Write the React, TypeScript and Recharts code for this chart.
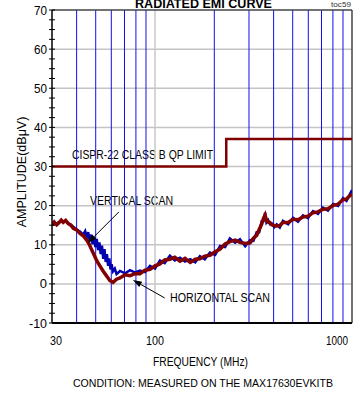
import { LineChart, Line, XAxis, YAxis, ReferenceLine, Customized } from "recharts";

const FONT = "'Liberation Sans', Arial, sans-serif";
const PLOT_LEFT = 52;

// axis ticks
const FREQ_TICKS = [30, 100, 1000];
const AMP_TICKS = [-10, -7.5, -5, -2.5, 0, 2.5, 5, 7.5, 10, 12.5, 15, 17.5, 20, 22.5, 25, 27.5, 30, 32.5, 35, 37.5, 40, 42.5, 45, 47.5, 50, 52.5, 55, 57.5, 60, 62.5, 65, 67.5, 70];
const GRID_AMP = [0, 10, 20, 30, 40, 50, 60];
const BLUE_FREQ_LINES = [40, 50, 60, 70, 80, 90, 200, 300, 400, 500, 600, 700, 800, 900];

// CISPR-22 class B QP limit
const LIMIT_FREQ = [30, 230, 230, 1000];
const LIMIT_AMP = [30, 30, 37, 37];

// horizontal scan (dark red)
const HOR_FREQ = [30, 30.8, 31.7, 32.5, 33.4, 34.2, 35.2, 36.3, 37.4, 38.5, 40, 41.6, 43.2, 45, 46.3, 47.7, 49.1, 50.6, 52.5, 54.5, 56.8, 59.1, 61.2, 63.8, 66.4, 70.5, 74.7, 79.2, 83.9, 89, 94.3, 100, 106, 112, 119, 126, 134, 142, 151, 160, 169, 179, 190, 202, 214, 227, 240, 255, 270, 287, 304, 316, 328, 338, 348, 355, 362, 368, 375, 383, 391, 403, 415, 430, 446, 474, 502, 532, 564, 598, 634, 672, 712, 755, 801, 850, 900, 938, 977, 1000];
const HOR_AMP = [15.0, 15.8, 15.1, 15.6, 16.3, 15.7, 16.2, 15.4, 15.0, 14.2, 13.8, 12.9, 12.3, 11.2, 10.2, 8.7, 7.4, 5.9, 4.6, 3.3, 2.0, 0.8, 0.4, 1.2, 1.5, 2.3, 2.1, 2.6, 2.6, 3.5, 3.7, 4.6, 5.1, 6.1, 6.3, 6.8, 5.8, 6.5, 5.5, 6.3, 6.4, 7.1, 7.3, 8.2, 8.9, 10.2, 10.8, 11.2, 10.6, 10.3, 10.5, 11.7, 12.4, 13.9, 15.3, 16.7, 17.6, 16.2, 15.8, 15.7, 15.1, 14.9, 14.8, 14.9, 15.7, 15.7, 16.5, 16.4, 17.1, 17.3, 18.2, 18.4, 19.1, 19.2, 20.0, 20.4, 21.5, 21.7, 22.6, 22.8];

// vertical scan (blue)
const VERT_FREQ = [30, 31.7, 33.4, 35.2, 37.4, 40, 41.6, 43.2, 44.2, 45, 45.8, 46.6, 47.4, 48.2, 49, 49.8, 50.6, 51.4, 52.2, 53, 53.8, 54.6, 55.4, 56.2, 57, 57.8, 58.6, 59.4, 60.2, 61.2, 62.5, 63.8, 66.4, 70.5, 74.7, 79.2, 83.9, 89, 94.3, 100, 106, 112, 119, 126, 134, 142, 151, 160, 169, 179, 190, 202, 214, 227, 240, 255, 270, 287, 304, 316, 328, 338, 348, 355, 362, 368, 375, 383, 391, 403, 415, 430, 446, 474, 502, 532, 564, 598, 634, 672, 712, 755, 801, 850, 900, 938, 977, 1000];
const VERT_AMP = [15.4, 15.4, 16.1, 15.9, 15.1, 13.9, 13.4, 12.6, 13.5, 11.9, 13.2, 11.0, 12.6, 10.1, 12.0, 9.4, 11.5, 8.6, 10.6, 7.6, 9.8, 6.4, 8.9, 5.6, 7.6, 4.6, 6.5, 3.7, 5.0, 3.2, 3.9, 2.5, 3.3, 2.7, 3.5, 2.9, 3.4, 3.0, 4.6, 3.9, 6.0, 5.3, 7.2, 6.0, 6.7, 5.7, 6.3, 5.5, 7.1, 6.3, 8.0, 7.4, 9.7, 9.4, 11.6, 10.5, 11.4, 9.6, 11.2, 11.0, 13.2, 13.2, 16.0, 16.0, 18.2, 15.7, 16.3, 15.3, 15.5, 14.5, 15.2, 14.4, 16.1, 15.2, 16.9, 15.9, 17.5, 16.8, 18.6, 17.9, 19.5, 18.7, 20.4, 19.9, 21.9, 21.2, 23.0, 24.0];

const rows = (freq: number[], amp: number[]) => freq.map((f, i) => ({ freq: f, amp: amp[i] }));
const limitData = rows(LIMIT_FREQ, LIMIT_AMP);
const horData = rows(HOR_FREQ, HOR_AMP);
const vertData = rows(VERT_FREQ, VERT_AMP);

function YTick(props: any) {
  const { y, payload } = props;
  const v = payload.value;
  const major = v % 10 === 0;
  const label = String(v);
  const width = label.length === 1 ? undefined : label.length === 2 ? 13 : 18;
  return (
    <g>
      <line x1={PLOT_LEFT - 3} x2={PLOT_LEFT + 3} y1={y} y2={y} stroke="#000" strokeWidth={1} />
      {major && (
        <text
          x={PLOT_LEFT - 5}
          y={y}
          dy={4.5}
          textAnchor="end"
          fontFamily={FONT}
          fontSize={13}
          fill="#000"
          textLength={width}
          lengthAdjust={width ? "spacingAndGlyphs" : undefined}
        >
          {label}
        </text>
      )}
    </g>
  );
}

function XTick(props: any) {
  const { x, y, payload } = props;
  const v = payload.value;
  const w = v === 30 ? 12 : v === 100 ? 18 : 22;
  const left = v === 30 ? x - 2 : v === 1000 ? x - 19 : x - 9;
  return (
    <text x={left} y={y} dy={14} fontFamily={FONT} fontSize={13} fill="#000" textLength={w} lengthAdjust="spacingAndGlyphs">
      {v}
    </text>
  );
}

function Arrow(props: any) {
  const { x1, y1, x2, y2 } = props;
  const ang = Math.atan2(y2 - y1, x2 - x1);
  const len = 9;
  const hw = 3;
  const bx = x2 - len * Math.cos(ang);
  const by = y2 - len * Math.sin(ang);
  const px = -Math.sin(ang) * hw;
  const py = Math.cos(ang) * hw;
  return (
    <g>
      <line x1={x1} y1={y1} x2={bx} y2={by} stroke="#000" strokeWidth={1} />
      <polygon points={`${x2},${y2} ${bx + px},${by + py} ${bx - px},${by - py}`} fill="#000" />
    </g>
  );
}

function Labels() {
  const t = { fontFamily: FONT, fill: "#000", lengthAdjust: "spacingAndGlyphs" as const };
  return (
    <g>
      <text x={135} y={8} fontSize={13} fontWeight="bold" textLength={137} {...t}>RADIATED EMI CURVE</text>
      <text x={331} y={7} fontSize={8} textLength={20} {...t} fill="#333">toc59</text>
      <text x={22} y={172} textAnchor="middle" fontSize={12.5} transform="rotate(-90 22 172)" dy={4} {...t}>
        AMPLITUDE(dBμV)
      </text>
      <text x={72} y={159} fontSize={12.5} textLength={141} {...t}>CISPR-22 CLASS B QP LIMIT</text>
      <text x={90} y={205} fontSize={12.5} textLength={83} {...t}>VERTICAL SCAN</text>
      <text x={170} y={302} fontSize={12.5} textLength={100} {...t}>HORIZONTAL SCAN</text>
      <text x={153} y={366} fontSize={12.5} textLength={95} {...t}>FREQUENCY (MHz)</text>
      <text x={73} y={387} fontSize={11.5} textLength={260} {...t}>CONDITION: MEASURED ON THE MAX17630EVKITB</text>
    </g>
  );
}

export default function App() {
  return (
    <div style={{ position: "absolute", left: 0, top: 0, width: 361, height: 393, background: "#fff" }}>
      <LineChart width={361} height={393} margin={{ top: 10, right: 9, left: 0, bottom: 0 }}>
        <XAxis
          dataKey="freq"
          type="number"
          scale="log"
          domain={[30, 1000]}
          ticks={FREQ_TICKS}
          allowDataOverflow
          height={70}
          tickLine={false}
          tick={<XTick />}
          axisLine={{ stroke: "#000", strokeWidth: 2 }}
        />
        <YAxis
          type="number"
          domain={[-10, 70]}
          ticks={AMP_TICKS}
          interval={0}
          width={52}
          tickLine={false}
          tick={<YTick />}
          axisLine={{ stroke: "#000", strokeWidth: 1.5 }}
        />
        {GRID_AMP.map((v) => (
          <ReferenceLine key={"h" + v} y={v} stroke="#c4c4c4" strokeWidth={1.5} />
        ))}
        <ReferenceLine x={100} stroke="#c8c8c8" strokeWidth={1.5} />
        {BLUE_FREQ_LINES.map((f) => (
          <ReferenceLine key={"v" + f} x={f} stroke="#1010f0" strokeWidth={1} />
        ))}
        <ReferenceLine y={70} stroke="#444" strokeWidth={1.5} />
        <ReferenceLine x={1000} stroke="#444" strokeWidth={1.5} />
        <Line data={limitData} dataKey="amp" type="linear" stroke="#800000" strokeWidth={2.5} dot={false} isAnimationActive={false} />
        <Line data={vertData} dataKey="amp" type="linear" stroke="#0000b0" strokeWidth={2.5} dot={false} isAnimationActive={false} />
        <Line data={horData} dataKey="amp" type="linear" stroke="#820000" strokeWidth={3.5} dot={false} isAnimationActive={false} />
        <ReferenceLine segment={[{ x: 65.6, y: 18.4 }, { x: 45.6, y: 10.45 }]} shape={<Arrow />} />
        <ReferenceLine segment={[{ x: 112, y: -3.6 }, { x: 77.2, y: 1.0 }]} shape={<Arrow />} />
        <Customized component={<Labels />} />
      </LineChart>
    </div>
  );
}
